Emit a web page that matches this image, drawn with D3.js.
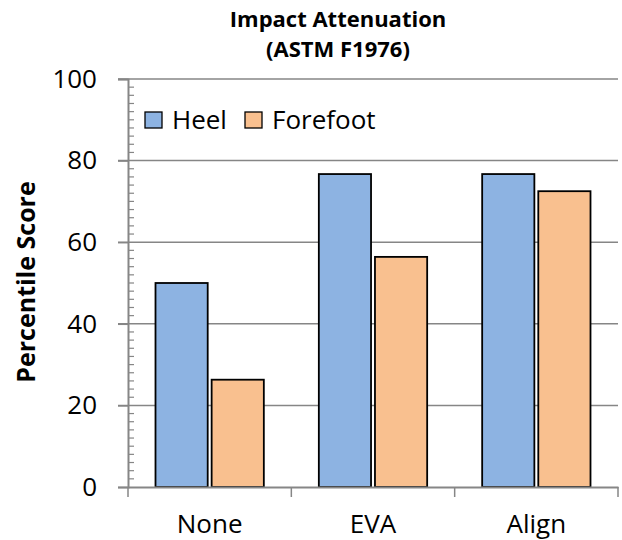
<!DOCTYPE html>
<html>
<head>
<meta charset="utf-8">
<script src="https://cdn.jsdelivr.net/npm/d3@7"></script>
<style>
  html, body { margin: 0; padding: 0; background: #fff; }
  svg { display: block; font-family: "Open Sans", sans-serif; }
</style>
</head>
<body>
<svg id="chart" width="622" height="540"></svg>
<script>
// Percentile scores by insole condition
const categories = ["None", "EVA", "Align"];
const seriesNames = ["Heel", "Forefoot"];
const heelValues = [50, 76.7, 76.7];
const forefootValues = [26.3, 56.4, 72.5];
const yTicks = [0, 20, 40, 60, 80, 100];
const seriesColors = ["#8DB3E2", "#F9C08F"];

const seriesValues = [heelValues, forefootValues];
const rows = categories.map((c, i) => ({
  category: c,
  values: seriesNames.map((s, j) => ({ series: s, value: seriesValues[j][i] }))
}));

const svg = d3.select("#chart");
const plot = { left: 128, right: 618, top: 79, bottom: 487 };
const axisColor = "#868686";

const x0 = d3.scaleBand().domain(categories).range([plot.left, plot.right]).padding(0);
const groupPad = 27.5;
const x1 = d3.scaleBand().domain(seriesNames)
  .range([groupPad, x0.bandwidth() - groupPad]).paddingInner(0.07);
const y = d3.scaleLinear().domain([0, 100]).range([plot.bottom, plot.top]);
const color = d3.scaleOrdinal().domain(seriesNames).range(seriesColors);

// Horizontal gridlines
svg.append("g")
  .selectAll("line")
  .data(yTicks.filter(t => t > 0))
  .join("line")
  .attr("x1", plot.left - 10).attr("x2", plot.right)
  .attr("y1", d => y(d)).attr("y2", d => y(d))
  .attr("stroke", axisColor).attr("stroke-width", 1.5);

// Minor ticks every 2 units on the inside of the value axis
svg.append("g")
  .selectAll("line")
  .data(d3.range(0, 100, 2).filter(v => v % 20 !== 0))
  .join("line")
  .attr("x1", plot.left).attr("x2", plot.left + 6)
  .attr("y1", d => y(d)).attr("y2", d => y(d))
  .attr("stroke", axisColor).attr("stroke-width", 1.2);

// Bars
svg.append("g")
  .selectAll("g")
  .data(rows)
  .join("g")
  .attr("transform", d => `translate(${x0(d.category)},0)`)
  .selectAll("rect")
  .data(d => d.values)
  .join("rect")
  .attr("x", d => x1(d.series))
  .attr("width", x1.bandwidth())
  .attr("y", d => y(d.value))
  .attr("height", d => y(0) - y(d.value))
  .attr("fill", d => color(d.series))
  .attr("stroke", "#000")
  .attr("stroke-width", 1.8);

// Value axis
const yAxis = d3.axisLeft(y).tickValues(yTicks).tickSize(10).tickPadding(21);
const gy = svg.append("g").attr("transform", `translate(${plot.left},0)`).call(yAxis);
gy.select(".domain").attr("stroke", axisColor).attr("stroke-width", 2);
gy.selectAll(".tick line").attr("stroke", axisColor).attr("stroke-width", 1.5);
gy.selectAll(".tick text").attr("font-size", 26).attr("fill", "#000")
  .attr("font-family", "'Open Sans', sans-serif");

// Category axis
const xAxis = d3.axisBottom(x0).tickSize(0).tickPadding(28);
const gx = svg.append("g").attr("transform", `translate(0,${plot.bottom})`).call(xAxis);
gx.select(".domain").attr("stroke", axisColor).attr("stroke-width", 2);
gx.selectAll(".tick text").attr("font-size", 26).attr("fill", "#000")
  .attr("font-family", "'Open Sans', sans-serif");
// Category boundary ticks
gx.append("g")
  .selectAll("line")
  .data(categories.map(c => x0(c)).concat([x0(categories[categories.length - 1]) + x0.bandwidth()]))
  .join("line")
  .attr("x1", d => d).attr("x2", d => d)
  .attr("y1", 0).attr("y2", 10)
  .attr("stroke", axisColor).attr("stroke-width", 1.5);

// Title
const title = svg.append("text")
  .attr("x", 338).attr("text-anchor", "middle")
  .attr("font-weight", "bold").attr("font-size", 22).attr("fill", "#000");
title.append("tspan").attr("x", 338).attr("y", 27).text("Impact Attenuation");
title.append("tspan").attr("x", 338).attr("y", 57).text("(ASTM F1976)");

// Value axis title
svg.append("text")
  .attr("transform", "translate(35,282) rotate(-90)")
  .attr("text-anchor", "middle")
  .attr("font-weight", "bold").attr("font-size", 25).attr("fill", "#000")
  .text("Percentile Score");

// Legend
const legendItems = [{ name: "Heel", x: 145 }, { name: "Forefoot", x: 245 }];
const legend = svg.append("g");
legendItems.forEach(item => {
  legend.append("rect")
    .attr("x", item.x).attr("y", 112).attr("width", 17).attr("height", 16)
    .attr("fill", color(item.name)).attr("stroke", "#000").attr("stroke-width", 1.3);
  legend.append("text")
    .attr("x", item.x + 27).attr("y", 129)
    .attr("font-size", 26).attr("fill", "#000")
    .text(item.name);
});
</script>
</body>
</html>
